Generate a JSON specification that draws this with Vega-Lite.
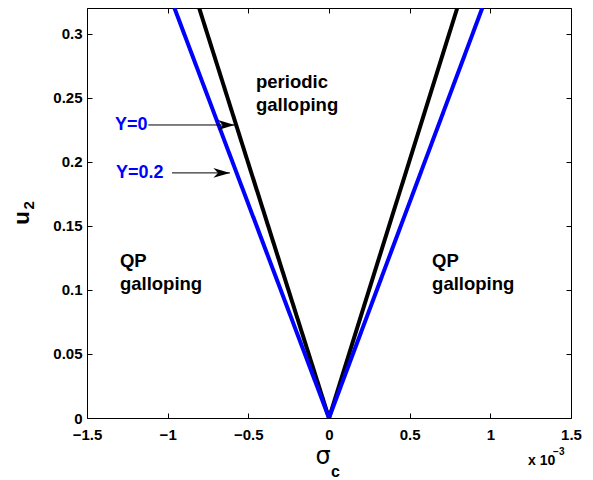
{
  "$schema": "https://vega.github.io/schema/vega-lite/v6.json",
  "width": 484,
  "height": 410,
  "autosize": {"type": "none"},
  "padding": {"left": 87, "top": 8, "right": 22, "bottom": 62},
  "background": "white",
  "config": {
    "view": {"stroke": "black", "strokeWidth": 1},
    "font": "Liberation Sans",
    "axis": {
      "grid": false,
      "domain": false,
      "tickColor": "black",
      "tickSize": -5,
      "tickWidth": 1,
      "labelFont": "Liberation Sans",
      "labelFontWeight": "bold",
      "labelFontSize": 15,
      "labelColor": "black",
      "title": null
    }
  },
  "datasets": {
    "boundaries": [
      {"sigma": -0.805, "u": 0.32, "Y": "0", "side": "left"},
      {"sigma": 0, "u": 0, "Y": "0", "side": "left"},
      {"sigma": 0, "u": 0, "Y": "0", "side": "right"},
      {"sigma": 0.795, "u": 0.32, "Y": "0", "side": "right"},
      {"sigma": -0.958, "u": 0.32, "Y": "0.2", "side": "left"},
      {"sigma": 0, "u": 0, "Y": "0.2", "side": "left"},
      {"sigma": 0, "u": 0, "Y": "0.2", "side": "right"},
      {"sigma": 0.95, "u": 0.32, "Y": "0.2", "side": "right"}
    ],
    "arrows": [
      {"x0": -1.12, "x1": -0.585, "u": 0.2287},
      {"x0": -0.973, "x1": -0.614, "u": 0.1913}
    ],
    "regions": [
      {"sigma": -0.4526, "u": 0.2576, "label": "periodic"},
      {"sigma": -0.4526, "u": 0.2397, "label": "galloping"},
      {"sigma": -1.296, "u": 0.1179, "label": "QP"},
      {"sigma": -1.296, "u": 0.0999, "label": "galloping"},
      {"sigma": 0.639, "u": 0.1179, "label": "QP"},
      {"sigma": 0.639, "u": 0.0999, "label": "galloping"}
    ],
    "ylabels": [
      {"sigma": -1.327, "u": 0.2287, "label": "Y=0"},
      {"sigma": -1.32, "u": 0.1913, "label": "Y=0.2"}
    ]
  },
  "resolve": {"axis": {"x": "independent", "y": "independent"}},
  "layer": [
    {
      "data": {"name": "boundaries"},
      "transform": [{"filter": "datum.Y == '0'"}],
      "mark": {"type": "line", "clip": true, "strokeWidth": 4, "color": "black", "strokeCap": "butt"},
      "encoding": {
        "x": {"field": "sigma", "type": "quantitative",
              "scale": {"domain": [-1.5, 1.5], "nice": false, "zero": false},
              "axis": {"orient": "bottom", "values": [-1.5, -1, -0.5, 0, 0.5, 1, 1.5], "format": "~g", "labelPadding": 14, "labelFlush": false}},
        "y": {"field": "u", "type": "quantitative",
              "scale": {"domain": [0, 0.32], "nice": false},
              "axis": {"orient": "left", "values": [0, 0.05, 0.1, 0.15, 0.2, 0.25, 0.3], "format": "~g", "labelPadding": 10, "labelFlush": false}},
        "detail": {"field": "side"}
      }
    },
    {
      "data": {"name": "boundaries"},
      "transform": [{"filter": "datum.Y == '0.2'"}],
      "mark": {"type": "line", "clip": true, "strokeWidth": 4, "color": "#0000ff", "strokeCap": "butt"},
      "encoding": {
        "x": {"field": "sigma", "type": "quantitative",
              "axis": {"orient": "top", "values": [-1.5, -1, -0.5, 0, 0.5, 1, 1.5], "labels": false}},
        "y": {"field": "u", "type": "quantitative",
              "axis": {"orient": "right", "values": [0, 0.05, 0.1, 0.15, 0.2, 0.25, 0.3], "labels": false}},
        "detail": {"field": "side"}
      }
    },
    {
      "data": {"name": "arrows"},
      "mark": {"type": "rule", "color": "black", "strokeWidth": 1},
      "encoding": {
        "x": {"field": "x0", "type": "quantitative", "axis": null},
        "x2": {"field": "x1"},
        "y": {"field": "u", "type": "quantitative", "axis": null}
      }
    },
    {
      "data": {"name": "arrows"},
      "mark": {"type": "point", "filled": true, "color": "black", "opacity": 1,
               "shape": "M0,0 L-1,-0.3 L-0.72,0 L-1,0.3 Z", "size": 1100},
      "encoding": {
        "x": {"field": "x1", "type": "quantitative", "axis": null},
        "y": {"field": "u", "type": "quantitative", "axis": null}
      }
    },
    {
      "data": {"name": "regions"},
      "mark": {"type": "text", "align": "left", "baseline": "alphabetic", "fontSize": 18.5, "fontWeight": "bold", "color": "black"},
      "encoding": {
        "x": {"field": "sigma", "type": "quantitative", "axis": null},
        "y": {"field": "u", "type": "quantitative", "axis": null},
        "text": {"field": "label"}
      }
    },
    {
      "data": {"name": "ylabels"},
      "mark": {"type": "text", "align": "left", "baseline": "middle", "fontSize": 18, "fontWeight": "bold", "color": "#0000ff"},
      "encoding": {
        "x": {"field": "sigma", "type": "quantitative", "axis": null},
        "y": {"field": "u", "type": "quantitative", "axis": null},
        "text": {"field": "label"}
      }
    },
    {
      "data": {"values": [{"sigma": -1.903, "u": 0.156, "label": "u"}]},
      "mark": {"type": "text", "align": "center", "baseline": "middle", "angle": 270, "color": "black", "fontSize": 22, "fontWeight": "bold"},
      "encoding": {
        "x": {"field": "sigma", "type": "quantitative", "axis": null},
        "y": {"field": "u", "type": "quantitative", "axis": null},
        "text": {"field": "label"}
      }
    },
    {
      "data": {"values": [{"sigma": -1.858, "u": 0.166, "label": "2"}]},
      "mark": {"type": "text", "align": "center", "baseline": "middle", "angle": 270, "color": "black", "fontSize": 15, "fontWeight": "bold"},
      "encoding": {
        "x": {"field": "sigma", "type": "quantitative", "axis": null},
        "y": {"field": "u", "type": "quantitative", "axis": null},
        "text": {"field": "label"}
      }
    },
    {
      "data": {"values": [{"sigma": -0.037, "u": -0.0304, "label": "σ"}]},
      "mark": {"type": "text", "align": "center", "baseline": "middle", "color": "black", "font": "DejaVu Sans", "fontSize": 24},
      "encoding": {
        "x": {"field": "sigma", "type": "quantitative", "axis": null},
        "y": {"field": "u", "type": "quantitative", "axis": null},
        "text": {"field": "label"}
      }
    },
    {
      "data": {"values": [{"sigma": 0.04, "u": -0.0422, "label": "c"}]},
      "mark": {"type": "text", "align": "center", "baseline": "middle", "color": "black", "fontSize": 16, "fontWeight": "bold"},
      "encoding": {
        "x": {"field": "sigma", "type": "quantitative", "axis": null},
        "y": {"field": "u", "type": "quantitative", "axis": null},
        "text": {"field": "label"}
      }
    },
    {
      "data": {"values": [{"sigma": 1.234, "u": -0.0367, "label": "x 10"}]},
      "mark": {"type": "text", "align": "left", "baseline": "alphabetic", "color": "black", "fontWeight": "bold", "fontSize": 14},
      "encoding": {
        "x": {"field": "sigma", "type": "quantitative", "axis": null},
        "y": {"field": "u", "type": "quantitative", "axis": null},
        "text": {"field": "label"}
      }
    },
    {
      "data": {"values": [{"sigma": 1.389, "u": -0.0292, "label": "−3"}]},
      "mark": {"type": "text", "align": "left", "baseline": "alphabetic", "color": "black", "fontWeight": "bold", "fontSize": 10},
      "encoding": {
        "x": {"field": "sigma", "type": "quantitative", "axis": null},
        "y": {"field": "u", "type": "quantitative", "axis": null},
        "text": {"field": "label"}
      }
    }
  ]
}
